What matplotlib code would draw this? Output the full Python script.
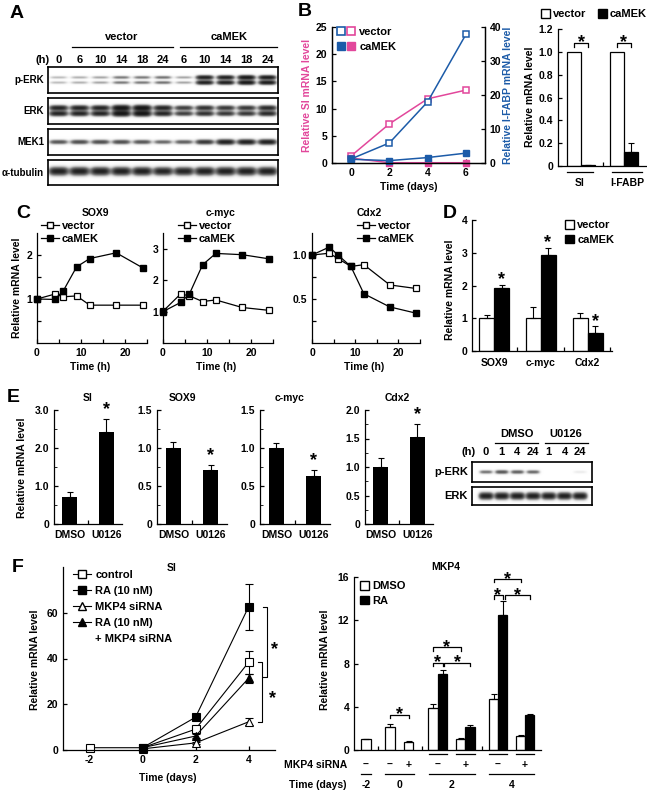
import numpy as np
import matplotlib
matplotlib.use('Agg')
import matplotlib.pyplot as plt
import matplotlib.transforms as mtransforms
from matplotlib.lines import Line2D
from matplotlib.patches import Patch
from matplotlib.legend_handler import HandlerTuple

plt.rcParams['font.family'] = ['Liberation Sans', 'DejaVu Sans']
plt.rcParams['font.weight'] = 'bold'
plt.rcParams['font.size'] = 7.5
plt.rcParams['axes.unicode_minus'] = False
plt.rcParams['axes.linewidth'] = 0.9
plt.rcParams['xtick.direction'] = 'in'
plt.rcParams['ytick.direction'] = 'in'
plt.rcParams['xtick.major.size'] = 3
plt.rcParams['ytick.major.size'] = 3
plt.rcParams['xtick.minor.size'] = 2
plt.rcParams['ytick.minor.size'] = 2
plt.rcParams['xtick.major.width'] = 0.9
plt.rcParams['ytick.major.width'] = 0.9
plt.rcParams['xtick.labelsize'] = 7.5
plt.rcParams['ytick.labelsize'] = 7.5

# ======================= DATA =======================
# Panel A: western blot band intensities per lane
a_time_labels = ['0', '6', '10', '14', '18', '24', '6', '10', '14', '18', '24']
a_perk = [0.22, 0.25, 0.28, 0.42, 0.42, 0.45, 0.28, 1.0, 1.0, 1.1, 1.05]
a_erk = [0.95, 0.95, 0.95, 1.15, 1.15, 0.95, 0.75, 0.85, 0.8, 0.8, 0.9]
a_mek1 = [0.6, 0.65, 0.65, 0.65, 0.6, 0.5, 0.55, 0.8, 1.0, 1.0, 1.0]
a_tubulin = [1.0, 1.0, 1.0, 1.0, 1.0, 0.95, 0.95, 1.0, 1.0, 1.0, 1.0]

# Panel B left: time course
b_days = [0, 2, 4, 6]
b_si_vec = [1.3, 7.2, 11.8, 13.4]
b_si_ca = [0.9, 0.05, 0.05, 0.05]
b_fabp_vec = [1.2, 5.9, 18.0, 37.8]
b_fabp_ca = [1.1, 0.7, 1.6, 2.9]

# Panel B right: bars
b_genes = ['SI', 'I-FABP']
b_bar_vec = [1.0, 1.0]
b_bar_ca = [0.005, 0.125]
b_bar_ca_err = [0.0, 0.08]

# Panel C: time course (h)
c_times = [0, 4, 6, 9, 12, 18, 24]
c_titles = ['SOX9', 'c-myc', 'Cdx2']
c_sox9_vec = [1.0, 1.11, 1.05, 1.07, 0.86, 0.86, 0.86]
c_sox9_ca = [1.0, 0.99, 1.19, 1.73, 1.92, 2.05, 1.71]
c_myc_vec = [1.01, 1.56, 1.50, 1.32, 1.37, 1.13, 1.04]
c_myc_ca = [1.0, 1.29, 1.56, 2.49, 2.85, 2.81, 2.68]
c_cdx2_vec = [1.0, 1.02, 0.96, 0.87, 0.89, 0.66, 0.62]
c_cdx2_ca = [1.0, 1.09, 1.0, 0.87, 0.56, 0.41, 0.34]

# Panel D
d_genes = ['SOX9', 'c-myc', 'Cdx2']
d_vec = [1.0, 1.0, 1.0]
d_vec_err = [0.1, 0.33, 0.17]
d_ca = [1.92, 2.93, 0.56]
d_ca_err = [0.11, 0.23, 0.19]

# Panel E
e_genes = ['SI', 'SOX9', 'c-myc', 'Cdx2']
e_groups = ['DMSO', 'U0126']
e_dmso = [0.72, 1.0, 1.0, 1.0]
e_dmso_err = [0.13, 0.08, 0.06, 0.16]
e_u0126 = [2.42, 0.71, 0.63, 1.53]
e_u0126_err = [0.35, 0.07, 0.08, 0.22]
e_blot_labels = ['0', '1', '4', '24', '1', '4', '24']
e_perk = [0.45, 0.6, 0.55, 0.5, 0.0, 0.0, 0.08]
e_erk = [1.0, 1.0, 1.0, 1.0, 1.0, 1.0, 1.0]

# Panel F left
f_days = [-2, 0, 2, 4]
f_control = [1.0, 1.0, 9.1, 38.3]
f_control_err = [0.0, 0.0, 0.8, 5.0]
f_ra = [np.nan, 1.0, 14.3, 62.5]
f_ra_err = [0.0, 0.0, 0.8, 10.0]
f_sirna = [np.nan, 0.5, 3.1, 12.3]
f_sirna_err = [0.0, 0.0, 0.5, 1.5]
f_ra_sirna = [np.nan, 1.0, 6.1, 31.3]
f_ra_sirna_err = [0.0, 0.0, 0.8, 2.0]

# Panel F right (MKP4)
mkp4_sirna = ['–', '–', '+', '–', '+', '–', '+']
mkp4_day = ['-2', '0', '2', '4']
mkp4_dmso = [1.0, 2.1, 0.7, 3.9, 1.0, 4.7, 1.3]
mkp4_dmso_err = [0.0, 0.3, 0.1, 0.4, 0.1, 0.5, 0.1]
mkp4_ra = [np.nan, np.nan, np.nan, 7.0, 2.1, 12.5, 3.2]
mkp4_ra_err = [0.0, 0.0, 0.0, 0.4, 0.25, 1.3, 0.1]

PINK = '#E2479B'
BLUE = '#1C5BA8'

# ======================= HELPERS =======================
W, H = 647, 791
fig = plt.figure(figsize=(W / 100, H / 100), dpi=100)


def axpx(x0, y0, x1, y1):
    return fig.add_axes([x0 / W, 1 - y1 / H, (x1 - x0) / W, (y1 - y0) / H])


def ftxt(x, y, s, **kw):
    kw.setdefault('ha', 'center')
    kw.setdefault('va', 'center')
    return fig.text(x / W, 1 - y / H, s, **kw)


def fline(x0, x1, y, lw=0.9):
    fig.add_artist(Line2D([x0 / W, x1 / W], [1 - y / H, 1 - y / H], color='k', lw=lw))


def clean(ax):
    ax.spines['top'].set_visible(False)
    ax.spines['right'].set_visible(False)


def star(ax, x, y, dy=0.0, fs=13):
    ax.annotate('*', (x, y), xytext=(0, dy - 0.58 * fs), textcoords='offset points',
                ha='center', va='baseline', fontsize=fs, annotation_clip=False)


def letter(x, y, s):
    ftxt(x, y, s, ha='left', fontsize=14, weight='bold')


def blot(x0, y0, x1, y1, centers, intens, bands, hw):
    ax = axpx(x0, y0, x1, y1)
    nx, ny = int((x1 - x0) * 3), int((y1 - y0) * 3)
    X, Y = np.meshgrid(np.linspace(x0, x1, nx), np.linspace(y0, y1, ny))
    img = np.zeros_like(X)
    for c, v in zip(centers, intens):
        prof = np.exp(-np.abs((X - c) / hw) ** 4)
        for yc, sy, rel in bands:
            s = sy * (0.7 + 0.6 * v)
            img += v * rel * prof * np.exp(-((Y - (y0 + yc * (y1 - y0))) / s) ** 2)
    img = 1 - np.exp(-2.2 * img)
    ax.imshow(img, cmap='Greys', vmin=0, vmax=1, extent=(x0, x1, y1, y0),
              aspect='auto', interpolation='bilinear')
    ax.set_xlim(x0, x1)
    ax.set_ylim(y1, y0)
    ax.set_xticks([])
    ax.set_yticks([])
    for s in ax.spines.values():
        s.set_linewidth(1.2)
    return ax


# ======================= PANEL A =======================
letter(10, 14, 'A')
a_centers = [58.5 + 20.9 * i for i in range(len(a_time_labels))]
ftxt(43, 60, '(h)', fontsize=8)
for c, t in zip(a_centers, a_time_labels):
    ftxt(c, 60, t, fontsize=8)
ftxt(122, 37, 'vector', fontsize=8)
fline(72, 173, 47)
ftxt(229, 37, 'caMEK', fontsize=8)
fline(180, 277, 47)
a_rows = [
    (67, 93, a_perk, 'p-ERK', [(0.40, 1.6, 1.0), (0.60, 1.6, 1.0)], 8.5),
    (98, 124, a_erk, 'ERK', [(0.38, 2.0, 1.0), (0.60, 2.0, 1.0)], 9),
    (129, 155, a_mek1, 'MEK1', [(0.50, 2.0, 1.0)], 9),
    (160, 185, a_tubulin, 'α-tubulin', [(0.45, 3.0, 1.0)], 9.5),
]
for y0, y1, vals, lab, bands, hw in a_rows:
    blot(48, y0, 278, y1, a_centers, vals, bands, hw)
    ftxt(44, (y0 + y1) / 2, lab, ha='right', fontsize=7)

# ======================= PANEL B left =======================
letter(298, 12, 'B')
axB = axpx(332, 27, 485, 163)
axB.plot(b_days, b_si_vec, color=PINK, lw=1.1, marker='s', ms=5, mfc='white', mec=PINK, mew=1.1, clip_on=False)
axB.plot(b_days, b_si_ca, color=PINK, lw=1.1, marker='s', ms=5, mfc=PINK, mec=PINK, clip_on=False)
axB.set_xlim(-1, 7)
axB.set_ylim(0, 25)
axB.set_xticks(b_days)
axB.set_yticks([0, 5, 10, 15, 20, 25])
axB.spines['top'].set_visible(False)
axB2 = axB.twinx()
axB2.plot(b_days, b_fabp_vec, color=BLUE, lw=1.1, marker='s', ms=5, mfc='white', mec=BLUE, mew=1.1, clip_on=False)
axB2.plot(b_days, b_fabp_ca, color=BLUE, lw=1.1, marker='s', ms=5, mfc=BLUE, mec=BLUE, clip_on=False)
axB2.set_ylim(0, 40)
axB2.set_yticks([0, 10, 20, 30, 40])
axB2.spines['top'].set_visible(False)
ftxt(307, 95, 'Relative SI mRNA level', rotation=90, color=PINK)
ftxt(508, 95, 'Relative I-FABP mRNA level', rotation=90, color=BLUE)
ftxt(409, 187, 'Time (days)')
hv = (Line2D([], [], ls='none', marker='s', ms=5.5, mfc='white', mec=BLUE, mew=1.2),
      Line2D([], [], ls='none', marker='s', ms=5.5, mfc='white', mec=PINK, mew=1.2))
hc = (Line2D([], [], ls='none', marker='s', ms=5.5, mfc=BLUE, mec=BLUE),
      Line2D([], [], ls='none', marker='s', ms=5.5, mfc=PINK, mec=PINK))
axB2.legend([hv, hc], ['vector', 'caMEK'], handler_map={tuple: HandlerTuple(ndivide=None, pad=0.3)},
            loc='upper left', bbox_to_anchor=(337 / W, 1 - 27 / H), bbox_transform=fig.transFigure,
            frameon=False, handlelength=1.6, handletextpad=0.4, labelspacing=0.45,
            borderpad=0, borderaxespad=0, fontsize=8)

# ======================= PANEL B right =======================
axBb = axpx(558, 29, 647, 166)
bx_vec = [16, 59]
bx_ca = [30, 73]
axBb.bar(bx_vec, b_bar_vec, width=14, color='white', edgecolor='k', lw=0.9)
axBb.bar(bx_ca, b_bar_ca, width=14, color='k', edgecolor='k', lw=0.9,
         yerr=([0, 0], b_bar_ca_err), capsize=2.5, error_kw=dict(lw=0.8, capthick=0.8))
axBb.set_xlim(0, 89)
axBb.set_ylim(0, 1.2)
axBb.set_yticks([0, 0.2, 0.4, 0.6, 0.8, 1.0, 1.2])
axBb.set_yticklabels(['0', '0.2', '0.4', '0.6', '0.8', '1.0', '1.2'])
axBb.set_xticks([45])
axBb.set_xticklabels([''])
clean(axBb)
for xv, xc in zip(bx_vec, bx_ca):
    axBb.plot([xv, xv, xc, xc], [1.04, 1.08, 1.08, 1.04], color='k', lw=0.9, clip_on=False)
    star(axBb, (xv + xc) / 2, 1.13)
ftxt(530, 97, 'Relative mRNA level', rotation=90)
fline(567, 593, 172)
fline(612, 642, 172)
ftxt(580, 183, b_genes[0])
ftxt(627, 183, b_genes[1])
axBb.legend([Patch(facecolor='white', edgecolor='k'), Patch(facecolor='k', edgecolor='k')],
            ['vector', 'caMEK'], loc='upper left', bbox_to_anchor=(541 / W, 1 - 9 / H),
            bbox_transform=fig.transFigure, frameon=False, ncol=2, handlelength=0.8,
            handleheight=0.8, handletextpad=0.3, columnspacing=1.0, borderpad=0,
            borderaxespad=0, fontsize=8)

# ======================= PANEL C =======================
letter(16, 213, 'C')
c_px = [(37, 233, 147, 343), (163, 233, 273, 343), (312, 233, 420, 343)]
c_vec = [c_sox9_vec, c_myc_vec, c_cdx2_vec]
c_ca = [c_sox9_ca, c_myc_ca, c_cdx2_ca]
c_ylims = [2.5, 3.5, 1.25]
c_yt = [([0.5, 1, 1.5, 2], ['', '1', '', '2']),
        ([1, 2, 3], ['1', '2', '3']),
        ([0.25, 0.5, 0.75, 1.0], ['', '0.5', '', '1.0'])]
c_leg = [(41, 221), (178, 221), (357, 221)]
for i in range(3):
    x0, y0, x1, y1 = c_px[i]
    ax = axpx(x0, y0, x1, y1)
    ax.plot(c_times, c_vec[i], color='k', lw=0.9, marker='s', ms=5, mfc='white', mec='k', mew=0.9, clip_on=False)
    ax.plot(c_times, c_ca[i], color='k', lw=0.9, marker='s', ms=5, mfc='k', mec='k', clip_on=False)
    ax.set_xlim(0, 25)
    ax.set_ylim(0, c_ylims[i])
    ax.set_xticks([0, 5, 10, 15, 20, 25])
    ax.set_xticklabels(['0', '', '10', '', '20', ''])
    ax.set_yticks(c_yt[i][0])
    ax.set_yticklabels(c_yt[i][1])
    clean(ax)
    ftxt((x0 + x1) / 2 + 3, 213, c_titles[i])
    ftxt((x0 + x1) / 2 - 2, 367, 'Time (h)')
    h1 = Line2D([], [], color='k', lw=0.9, marker='s', ms=5, mfc='white', mec='k')
    h2 = Line2D([], [], color='k', lw=0.9, marker='s', ms=5, mfc='k', mec='k')
    ax.legend([h1, h2], ['vector', 'caMEK'], loc='upper left',
              bbox_to_anchor=(c_leg[i][0] / W, 1 - c_leg[i][1] / H), bbox_transform=fig.transFigure,
              frameon=False, handlelength=1.6, handletextpad=0.3, labelspacing=0.3,
              borderpad=0, borderaxespad=0, fontsize=8)
ftxt(17, 288, 'Relative mRNA level', rotation=90)

# ======================= PANEL D =======================
letter(443, 214, 'D')
axD = axpx(472, 220, 612, 351)
d_gc = [22, 68.5, 115.5]
d_xv = [g - 7.5 for g in d_gc]
d_xc = [g + 7.5 for g in d_gc]
axD.bar(d_xv, d_vec, width=15, color='white', edgecolor='k', lw=0.9,
        yerr=([0, 0, 0], d_vec_err), capsize=2.5, error_kw=dict(lw=0.8, capthick=0.8))
axD.bar(d_xc, d_ca, width=15, color='k', edgecolor='k', lw=0.9,
        yerr=([0, 0, 0], d_ca_err), capsize=2.5, error_kw=dict(lw=0.8, capthick=0.8))
axD.set_xlim(0, 140)
axD.set_ylim(0, 4)
axD.set_yticks([0, 1, 2, 3, 4])
axD.set_xticks([45, 92, 138])
axD.set_xticklabels(['', '', ''])
clean(axD)
for xc, v, e in zip(d_xc, d_ca, d_ca_err):
    star(axD, xc, v + e, dy=8)
trD = mtransforms.blended_transform_factory(axD.transData, axD.transAxes)
for g, lab in zip(d_gc, d_genes):
    axD.text(g, -0.09, lab, transform=trD, ha='center', va='center')
ftxt(450, 290, 'Relative mRNA level', rotation=90)
axD.legend([Patch(facecolor='white', edgecolor='k'), Patch(facecolor='k', edgecolor='k')],
           ['vector', 'caMEK'], loc='upper left', bbox_to_anchor=(565 / W, 1 - 220 / H),
           bbox_transform=fig.transFigure, frameon=False, handlelength=0.8,
           handleheight=0.8, handletextpad=0.3, labelspacing=0.4, borderpad=0,
           borderaxespad=0, fontsize=8)

# ======================= PANEL E =======================
letter(7, 398, 'E')
e_px = [(54, 410, 122, 524), (157, 410, 227, 524), (260, 410, 330, 524), (365, 410, 433, 524)]
e_ylim = [3.0, 1.5, 1.5, 2.0]
e_yt = [([0, 1, 2, 3], ['0', '1.0', '2.0', '3.0'], [0.5, 1.5, 2.5]),
        ([0, 0.5, 1.0, 1.5], ['0', '0.5', '1.0', '1.5'], [0.25, 0.75, 1.25]),
        ([0, 0.5, 1.0, 1.5], ['0', '0.5', '1.0', '1.5'], [0.25, 0.75, 1.25]),
        ([0, 0.5, 1.0, 1.5, 2.0], ['0', '0.5', '1.0', '1.5', '2.0'], [0.25, 0.75, 1.25, 1.75])]
e_title_x = [88, 182, 290, 397]
for i in range(4):
    x0, y0, x1, y1 = e_px[i]
    ax = axpx(x0, y0, x1, y1)
    ax.bar([0.7], [e_dmso[i]], width=0.66, color='k', yerr=([0], [e_dmso_err[i]]),
           capsize=2.5, error_kw=dict(lw=0.8, capthick=0.8))
    ax.bar([2.3], [e_u0126[i]], width=0.66, color='k', yerr=([0], [e_u0126_err[i]]),
           capsize=2.5, error_kw=dict(lw=0.8, capthick=0.8))
    star(ax, 2.3, e_u0126[i] + e_u0126_err[i], dy=11)
    ax.set_xlim(0, 3)
    ax.set_ylim(0, e_ylim[i])
    ax.set_yticks(e_yt[i][0])
    ax.set_yticklabels(e_yt[i][1])
    ax.set_yticks(e_yt[i][2], minor=True)
    ax.set_xticks([1.5])
    ax.set_xticklabels([''])
    clean(ax)
    tr = mtransforms.blended_transform_factory(ax.transData, ax.transAxes)
    ax.text(0.7, -0.1, e_groups[0], transform=tr, ha='center', va='center')
    ax.text(2.3, -0.1, e_groups[1], transform=tr, ha='center', va='center')
    ftxt(e_title_x[i], 398, e_genes[i])
ftxt(22, 468, 'Relative mRNA level', rotation=90)

e_centers = [486 + 15.7 * i for i in range(len(e_blot_labels))]
blot(472, 462, 592, 482, e_centers, e_perk, [(0.5, 1.8, 1.0)], 6.5)
blot(472, 487, 592, 505, e_centers, e_erk, [(0.5, 2.6, 1.0)], 7)
ftxt(469, 452, '(h)', fontsize=8)
for c, t in zip(e_centers, e_blot_labels):
    ftxt(c, 452, t, fontsize=8)
ftxt(517, 434, 'DMSO', fontsize=8)
fline(495, 538, 443)
ftxt(566, 434, 'U0126', fontsize=8)
fline(545, 588, 443)
ftxt(468, 472, 'p-ERK', ha='right', fontsize=8)
ftxt(468, 496, 'ERK', ha='right', fontsize=8)

# ======================= PANEL F left =======================
letter(12, 568, 'F')
axF = axpx(63, 567, 275, 750)
f_series = [(f_control, f_control_err, 's', 'white'),
            (f_ra, f_ra_err, 's', 'k'),
            (f_sirna, f_sirna_err, '^', 'white'),
            (f_ra_sirna, f_ra_sirna_err, '^', 'k')]
for vals, errs, mk, fc in f_series:
    axF.errorbar(f_days, vals, yerr=errs, color='k', lw=0.8, marker=mk, ms=6, mfc=fc, mec='k',
                 mew=0.8, capsize=3, elinewidth=0.8, capthick=0.8, clip_on=False)
axF.set_xlim(-3, 5)
axF.set_ylim(0, 80)
axF.set_xticks(f_days)
axF.set_yticks([0, 20, 40, 60])
clean(axF)
axF.plot([4.55, 4.7, 4.7, 4.55], [62.5, 62.5, 31.7, 31.7], color='k', lw=0.8, clip_on=False)
star(axF, 4.98, 46.7)
axF.plot([4.36, 4.5, 4.5, 4.36], [38.4, 38.4, 12.2, 12.2], color='k', lw=0.8, clip_on=False)
star(axF, 4.9, 25.3)
ftxt(172, 568, 'SI')
ftxt(168, 778, 'Time (days)')
ftxt(35, 660, 'Relative mRNA level', rotation=90)
fh = [Line2D([], [], color='k', lw=0.8, marker='s', ms=6, mfc='white', mec='k'),
      Line2D([], [], color='k', lw=0.8, marker='s', ms=6, mfc='k', mec='k'),
      Line2D([], [], color='k', lw=0.8, marker='^', ms=6, mfc='white', mec='k'),
      Line2D([], [], color='k', lw=0.8, marker='^', ms=6, mfc='k', mec='k'),
      Line2D([], [], ls='none')]
axF.legend(fh, ['control', 'RA (10 nM)', 'MKP4 siRNA', 'RA (10 nM)', '+ MKP4 siRNA'],
           loc='upper left', bbox_to_anchor=(73 / W, 1 - 570 / H), bbox_transform=fig.transFigure,
           frameon=False, handlelength=1.6, handletextpad=0.4, labelspacing=0.55,
           borderpad=0, borderaxespad=0, fontsize=8)

# ======================= PANEL F right =======================
axG = axpx(354, 577, 541, 750)
g_xd = [12, 36, 54.5, 79, 106.5, 139.5, 166.5]
g_xr = [88.5, 116, 148.5, 175.5]
axG.bar(g_xd, mkp4_dmso, width=9.5, color='white', edgecolor='k', lw=0.9,
        yerr=([0] * 7, mkp4_dmso_err), capsize=2.5, error_kw=dict(lw=0.8, capthick=0.8))
axG.bar(g_xr, mkp4_ra[3:], width=9.5, color='k', edgecolor='k', lw=0.9,
        yerr=([0] * 4, mkp4_ra_err[3:]), capsize=2.5, error_kw=dict(lw=0.8, capthick=0.8))
axG.set_xlim(0, 187)
axG.set_ylim(0, 16)
axG.set_yticks([0, 4, 8, 12, 16])
axG.set_xticks([24, 68, 128])
axG.set_xticklabels(['', '', ''])
clean(axG)


def bracket(ax, xa, xb, y, h=0.3):
    ax.plot([xa, xa, xb, xb], [y - h, y, y, y - h], color='k', lw=0.9, clip_on=False)
    star(ax, (xa + xb) / 2, y + 0.55)


bracket(axG, 36, 54.5, 3.25)
bracket(axG, 79, 88.5, 8.05)
bracket(axG, 90, 116, 8.05)
bracket(axG, 79, 106.5, 9.5)
bracket(axG, 139.5, 148.5, 14.3)
bracket(axG, 151, 175.5, 14.3)
bracket(axG, 139.5, 166.5, 15.8)
trG = mtransforms.blended_transform_factory(axG.transData, axG.transAxes)


def yax(ypx):
    return (750 - ypx) / 173.0


sign_x = [12, 36, 54.5, 83.75, 111.25, 144, 171]
for xs, s in zip(sign_x, mkp4_sirna):
    axG.text(xs, yax(765), s, transform=trG, ha='center', va='center')
for xa, xb in [(74.5, 93), (102, 121), (135, 153), (162, 180)]:
    axG.plot([xa, xb], [yax(754)] * 2, color='k', lw=0.9, transform=trG, clip_on=False)
for (xa, xb), d in zip([(7, 17), (31, 59.5), (74.5, 121), (135, 180)], mkp4_day):
    axG.plot([xa, xb], [yax(774)] * 2, color='k', lw=0.9, transform=trG, clip_on=False)
    axG.text((xa + xb) / 2, yax(785), d, transform=trG, ha='center', va='center')
ftxt(347, 765, 'MKP4 siRNA', ha='right')
ftxt(347, 785, 'Time (days)', ha='right')
ftxt(446, 567, 'MKP4')
ftxt(325, 660, 'Relative mRNA level', rotation=90)
axG.legend([Patch(facecolor='white', edgecolor='k'), Patch(facecolor='k', edgecolor='k')],
           ['DMSO', 'RA'], loc='upper left', bbox_to_anchor=(360 / W, 1 - 581 / H),
           bbox_transform=fig.transFigure, frameon=False, handlelength=0.8,
           handleheight=0.8, handletextpad=0.3, labelspacing=0.4, borderpad=0,
           borderaxespad=0, fontsize=8)

fig.savefig('out.png', dpi=100)
